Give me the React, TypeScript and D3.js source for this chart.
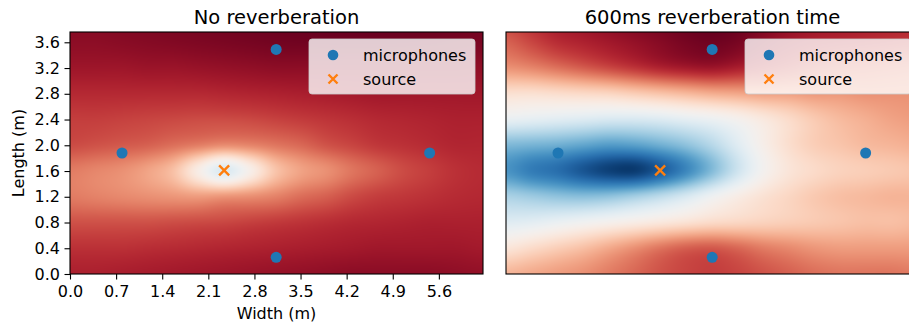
import { useEffect, useRef } from 'react'
import * as d3 from 'd3'

// room size (m) and sampling grid of the response maps
const roomWidth = 6.27
const roomLength = 3.76
const xGrid = [0, 0.39, 0.78, 1.17, 1.56, 1.95, 2.34, 2.73, 3.12, 3.51, 3.9, 4.29, 4.68, 5.07, 5.46, 5.85, 6.24]
const yGrid = [0, 0.4025, 0.805, 1.2075, 1.61, 2.0125, 2.415, 2.8175, 3.22, 3.6225, 4.025]

// normalised map values, one row per yGrid entry (bottom to top); 0 = red, 1 = blue
const dryField = [
  [0.1, 0.1, 0.095, 0.09, 0.085, 0.08, 0.075, 0.07, 0.065, 0.06, 0.055, 0.05, 0.05, 0.05, 0.05, 0.055, 0.06],
  [0.13, 0.13, 0.13, 0.125, 0.12, 0.115, 0.11, 0.105, 0.1, 0.095, 0.09, 0.085, 0.08, 0.08, 0.08, 0.08, 0.085],
  [0.18, 0.18, 0.18, 0.18, 0.175, 0.17, 0.165, 0.155, 0.145, 0.135, 0.125, 0.115, 0.11, 0.105, 0.1, 0.1, 0.1],
  [0.24, 0.25, 0.26, 0.27, 0.28, 0.29, 0.28, 0.27, 0.25, 0.22, 0.2, 0.17, 0.15, 0.14, 0.13, 0.12, 0.115],
  [0.24, 0.255, 0.27, 0.3, 0.35, 0.47, 0.57, 0.48, 0.36, 0.3, 0.27, 0.23, 0.2, 0.17, 0.15, 0.13, 0.12],
  [0.17, 0.18, 0.19, 0.2, 0.22, 0.24, 0.26, 0.25, 0.23, 0.21, 0.18, 0.16, 0.14, 0.13, 0.12, 0.11, 0.11],
  [0.15, 0.15, 0.155, 0.16, 0.165, 0.17, 0.17, 0.165, 0.155, 0.145, 0.135, 0.125, 0.115, 0.11, 0.105, 0.1, 0.1],
  [0.115, 0.115, 0.115, 0.115, 0.115, 0.115, 0.11, 0.105, 0.1, 0.095, 0.09, 0.085, 0.08, 0.08, 0.08, 0.08, 0.08],
  [0.075, 0.075, 0.075, 0.07, 0.07, 0.065, 0.06, 0.055, 0.05, 0.05, 0.05, 0.05, 0.05, 0.05, 0.05, 0.05, 0.055],
  [0.05, 0.05, 0.045, 0.04, 0.035, 0.03, 0.025, 0.02, 0.015, 0.012, 0.01, 0.01, 0.01, 0.012, 0.015, 0.02, 0.025],
  [0.04, 0.04, 0.035, 0.03, 0.025, 0.02, 0.015, 0.01, 0.005, 0, 0, 0, 0, 0.005, 0.01, 0.015, 0.02],
]

const reverbField = [
  [0.33, 0.31, 0.29, 0.27, 0.24, 0.21, 0.18, 0.16, 0.15, 0.16, 0.18, 0.2, 0.22, 0.23, 0.23, 0.23, 0.24],
  [0.44, 0.41, 0.38, 0.35, 0.31, 0.27, 0.23, 0.2, 0.19, 0.21, 0.24, 0.26, 0.28, 0.29, 0.29, 0.29, 0.29],
  [0.56, 0.55, 0.53, 0.51, 0.49, 0.47, 0.45, 0.43, 0.41, 0.4, 0.39, 0.38, 0.37, 0.36, 0.35, 0.35, 0.34],
  [0.66, 0.68, 0.7, 0.71, 0.7, 0.67, 0.63, 0.58, 0.52, 0.47, 0.43, 0.4, 0.37, 0.35, 0.34, 0.33, 0.33],
  [0.8, 0.85, 0.88, 0.93, 0.97, 0.98, 0.92, 0.83, 0.72, 0.6, 0.5, 0.44, 0.41, 0.39, 0.38, 0.37, 0.36],
  [0.72, 0.73, 0.74, 0.76, 0.78, 0.77, 0.74, 0.7, 0.64, 0.56, 0.48, 0.42, 0.38, 0.36, 0.34, 0.33, 0.32],
  [0.53, 0.54, 0.55, 0.56, 0.57, 0.57, 0.56, 0.54, 0.52, 0.49, 0.45, 0.41, 0.37, 0.34, 0.32, 0.3, 0.29],
  [0.42, 0.42, 0.41, 0.4, 0.39, 0.37, 0.35, 0.33, 0.31, 0.3, 0.29, 0.29, 0.28, 0.28, 0.27, 0.27, 0.27],
  [0.27, 0.25, 0.22, 0.19, 0.16, 0.13, 0.1, 0.08, 0.07, 0.09, 0.12, 0.15, 0.18, 0.2, 0.21, 0.22, 0.23],
  [0.2, 0.16, 0.12, 0.1, 0.08, 0.06, 0.04, 0.02, 0.01, 0.02, 0.05, 0.08, 0.1, 0.11, 0.12, 0.13, 0.14],
  [0.15, 0.12, 0.09, 0.07, 0.05, 0.03, 0.02, 0.01, 0, 0.01, 0.03, 0.06, 0.08, 0.09, 0.1, 0.11, 0.12],
]

const micX = [0.79, 3.13, 5.46, 3.13]
const micY = [1.88, 3.49, 1.88, 0.26]
const sourceX = [2.34]
const sourceY = [1.61]

const xTicks = [0, 0.7, 1.4, 2.1, 2.8, 3.5, 4.2, 4.9, 5.6]
const yTicks = [0, 0.4, 0.8, 1.2, 1.6, 2.0, 2.4, 2.8, 3.2, 3.6]
const titles = ['No reverberation', '600ms reverberation time']
const legendLabels = ['microphones', 'source']

const W = 909
const H = 329
const FONT = 'DejaVu Sans, sans-serif'
const BLUE = '#1f77b4'
const ORANGE = '#ff7f0e'
const LABEL = '16px'
const TITLE = '19.5px'

// catmull-rom between p1 and p2
const cr = (p0: number, p1: number, p2: number, p3: number, t: number) =>
  p1 + 0.5 * t * (p2 - p0 + t * (2 * p0 - 5 * p1 + 4 * p2 - p3 + t * (3 * (p1 - p2) + p3 - p0)))

function fieldImage(field: number[][], w: number, h: number, x: d3.ScaleLinear<number, number>, y: d3.ScaleLinear<number, number>, x0: number, y0: number) {
  const canvas = document.createElement('canvas')
  canvas.width = w
  canvas.height = h
  const ctx = canvas.getContext('2d')!
  const img = ctx.createImageData(w, h)
  const ci = d3.scaleLinear().domain([xGrid[0], xGrid[xGrid.length - 1]]).range([0, xGrid.length - 1])
  const ri = d3.scaleLinear().domain([yGrid[0], yGrid[yGrid.length - 1]]).range([0, yGrid.length - 1])
  const nr = field.length
  const nc = field[0].length
  const get = (r: number, c: number) => field[Math.max(0, Math.min(nr - 1, r))][Math.max(0, Math.min(nc - 1, c))]
  const color = d3.scaleSequential(d3.interpolateRdBu).domain([0, 1])
  for (let py = 0; py < h; py++) {
    const fy = ri(y.invert(y0 + py + 0.5))
    const r = Math.floor(fy)
    const ty = fy - r
    for (let px = 0; px < w; px++) {
      const fx = ci(x.invert(x0 + px + 0.5))
      const c = Math.floor(fx)
      const tx = fx - c
      const rows = [-1, 0, 1, 2].map((k) => cr(get(r + k, c - 1), get(r + k, c), get(r + k, c + 1), get(r + k, c + 2), tx))
      const v = Math.max(0, Math.min(1, cr(rows[0], rows[1], rows[2], rows[3], ty)))
      const col = d3.rgb(color(v))
      const i = (py * w + px) * 4
      img.data[i] = col.r
      img.data[i + 1] = col.g
      img.data[i + 2] = col.b
      img.data[i + 3] = 255
    }
  }
  ctx.putImageData(img, 0, 0)
  return canvas.toDataURL()
}

export default function App() {
  const ref = useRef<SVGSVGElement>(null)

  useEffect(() => {
    if (!ref.current) return
    const svg = d3.select(ref.current)
    svg.selectAll('*').remove()

    const panels = [
      { x0: 70, field: dryField, ticks: true },
      { x0: 506, field: reverbField, ticks: false },
    ]
    const y0 = 32
    const pw = 413
    const ph = 242

    panels.forEach((p, idx) => {
      const x = d3.scaleLinear().domain([0, roomWidth]).range([p.x0, p.x0 + pw])
      const y = d3.scaleLinear().domain([0, roomLength]).range([y0 + ph, y0])
      const g = svg.append('g')

      g.append('image')
        .attr('x', p.x0)
        .attr('y', y0)
        .attr('width', pw)
        .attr('height', ph)
        .attr('preserveAspectRatio', 'none')
        .attr('href', fieldImage(p.field, pw, ph, x, y, p.x0, y0))

      // microphones and source
      g.selectAll('circle.mic')
        .data(micX.map((v, i) => [v, micY[i]]))
        .join('circle')
        .attr('cx', (d) => x(d[0]))
        .attr('cy', (d) => y(d[1]))
        .attr('r', 5.5)
        .attr('fill', BLUE)

      const cross = (gg: d3.Selection<SVGGElement, unknown, null, undefined>, cx: number, cy: number, s: number) => {
        gg.append('path')
          .attr('d', `M${cx - s},${cy - s}L${cx + s},${cy + s}M${cx - s},${cy + s}L${cx + s},${cy - s}`)
          .attr('stroke', ORANGE)
          .attr('stroke-width', 2.4)
          .attr('fill', 'none')
      }
      sourceX.forEach((sx, i) => cross(g, x(sx), y(sourceY[i]), 5))

      // spines
      g.append('rect')
        .attr('x', p.x0)
        .attr('y', y0)
        .attr('width', pw)
        .attr('height', ph)
        .attr('fill', 'none')
        .attr('stroke', '#000')
        .attr('stroke-width', 1.1)

      g.append('text')
        .attr('x', p.x0 + pw / 2)
        .attr('y', 23.5)
        .attr('text-anchor', 'middle')
        .style('font-family', FONT)
        .style('font-size', TITLE)
        .text(titles[idx])

      if (p.ticks) {
        const xa = g.append('g')
          .attr('transform', `translate(0,${y0 + ph})`)
          .call(d3.axisBottom(x).tickValues(xTicks).tickFormat(d3.format('.1f')).tickSize(5.5).tickPadding(6.5))
        const ya = g.append('g')
          .attr('transform', `translate(${p.x0},0)`)
          .call(d3.axisLeft(y).tickValues(yTicks).tickFormat(d3.format('.1f')).tickSize(5.5).tickPadding(4.5))
        for (const a of [xa, ya]) {
          a.select('.domain').remove()
          a.selectAll('line').attr('stroke', '#000').attr('stroke-width', 1.1)
          a.selectAll('text').style('font-family', FONT).style('font-size', LABEL).attr('fill', '#000')
        }

        g.append('text')
          .attr('x', p.x0 + pw / 2)
          .attr('y', 319)
          .attr('text-anchor', 'middle')
          .style('font-family', FONT)
          .style('font-size', LABEL)
          .text('Width (m)')
        g.append('text')
          .attr('transform', `translate(24,${y0 + ph / 2}) rotate(-90)`)
          .attr('text-anchor', 'middle')
          .style('font-family', FONT)
          .style('font-size', LABEL)
          .text('Length (m)')
      }

      // legend
      const lw = 166
      const lx = p.x0 + pw - 8 - lw
      const ly = y0 + 7
      const lg = g.append('g')
      lg.append('rect')
        .attr('x', lx)
        .attr('y', ly)
        .attr('width', lw)
        .attr('height', 55)
        .attr('rx', 3)
        .attr('fill', 'rgba(255,255,255,0.8)')
        .attr('stroke', 'rgba(204,204,204,0.8)')
        .attr('stroke-width', 1)
      lg.append('circle').attr('cx', lx + 24).attr('cy', ly + 16).attr('r', 5.3).attr('fill', BLUE)
      cross(lg, lx + 24, ly + 40, 4.5)
      legendLabels.forEach((t, i) => {
        lg.append('text')
          .attr('x', lx + 54)
          .attr('y', ly + 21.5 + i * 24)
          .style('font-family', FONT)
          .style('font-size', LABEL)
          .text(t)
      })
    })
  }, [])

  return (
    <svg
      ref={ref}
      width={W}
      height={H}
      style={{ position: 'absolute', left: 0, top: 0, background: '#fff', overflow: 'hidden' }}
    />
  )
}
